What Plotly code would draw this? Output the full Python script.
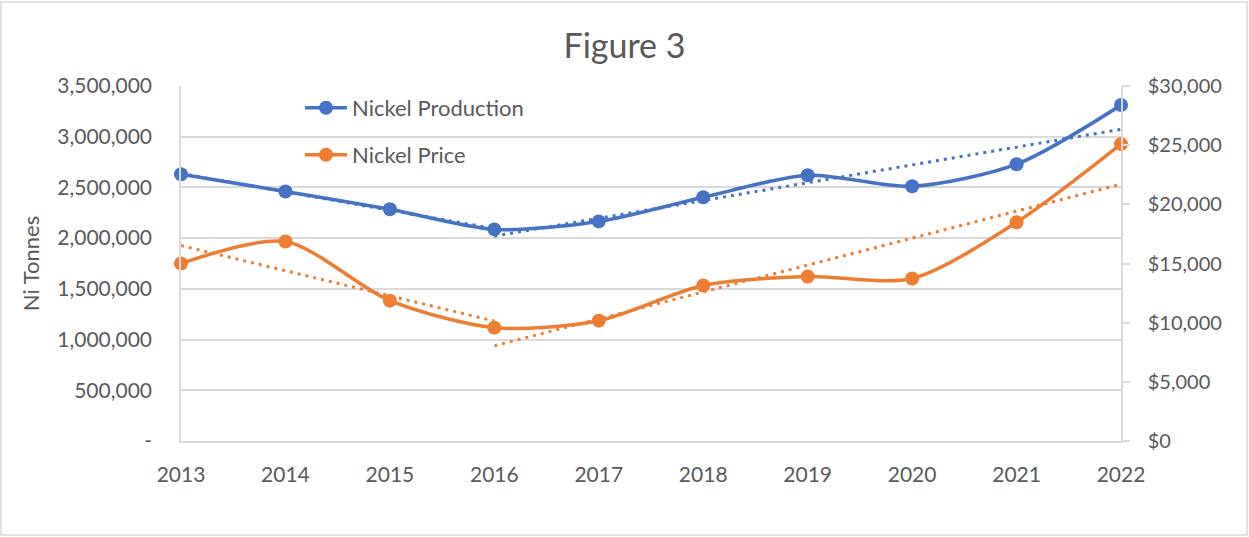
import numpy as np
import plotly.graph_objects as go

years = ["2013", "2014", "2015", "2016", "2017", "2018", "2019", "2020", "2021", "2022"]
production = [2630000, 2460000, 2285000, 2086000, 2165000, 2403000, 2620000, 2511000, 2729000, 3312000]
price = [15000, 16860, 11860, 9580, 10170, 13140, 13900, 13730, 18480, 25090]

left_ticks = [0, 500000, 1000000, 1500000, 2000000, 2500000, 3000000, 3500000]
left_labels = ["-", "500,000", "1,000,000", "1,500,000", "2,000,000", "2,500,000", "3,000,000", "3,500,000"]
right_ticks = [0, 5000, 10000, 15000, 20000, 25000, 30000]
right_labels = ["$0", "$5,000", "$10,000", "$15,000", "$20,000", "$25,000", "$30,000"]

BLUE = "#4472C4"
ORANGE = "#ED7D31"
TXT = "#595959"
GRID = "#D9D9D9"
FONT = "Lato"

xi = np.arange(len(years))


def trend(vals, i0, i1):
    xs = xi[i0:i1 + 1]
    m, b = np.polyfit(xs, np.array(vals[i0:i1 + 1], dtype=float), 1)
    return [years[i0], years[i1]], [m * xs[0] + b, m * xs[-1] + b]


fig = go.Figure()

# trend lines (dotted)
for vals, col, ax in [(production, BLUE, "y"), (price, ORANGE, "y2")]:
    for (a, b) in [(0, 3), (3, 9)]:
        tx, ty = trend(vals, a, b)
        fig.add_trace(go.Scatter(x=tx, y=ty, mode="lines", yaxis=ax, showlegend=False,
                                 hoverinfo="skip",
                                 line=dict(color=col, width=3, dash="3px,5px")))

fig.add_trace(go.Scatter(x=years, y=production, name="Nickel Production", mode="lines+markers",
                         line=dict(color=BLUE, width=3.5, shape="spline", smoothing=0.8),
                         marker=dict(size=14, color=BLUE), cliponaxis=False, legend="legend"))
fig.add_trace(go.Scatter(x=years, y=price, name="Nickel Price", mode="lines+markers", yaxis="y2",
                         line=dict(color=ORANGE, width=3.5, shape="spline", smoothing=0.8),
                         marker=dict(size=14, color=ORANGE), cliponaxis=False, legend="legend2"))

W, H = 1249, 537
L, R, T, B = 181, 128, 86, 96
pw, ph = W - L - R, H - T - B


def px(x):
    return (x - L) / pw


def py(y):
    return (H - B - y) / ph


leg_common = dict(xanchor="left", yanchor="middle", bgcolor="rgba(0,0,0,0)",
                  font=dict(size=22, color=TXT), itemwidth=42)

fig.update_layout(
    width=W, height=H,
    margin=dict(l=L, r=R, t=T, b=B),
    paper_bgcolor="white", plot_bgcolor="white",
    font=dict(family=FONT, color=TXT, size=20),
    title=dict(text="Figure 3", x=0.5, xref="container", xanchor="center",
               y=1 - 46 / H, yref="container", yanchor="middle",
               font=dict(size=34, color=TXT, family=FONT)),
    xaxis=dict(type="category", categoryorder="array", categoryarray=years,
               range=[0, len(years) - 1], showgrid=False, showline=True,
               linecolor=GRID, linewidth=1.5, ticks="", tickfont=dict(size=21, color=TXT),
               ticklabelstandoff=14, zeroline=False),
    yaxis=dict(range=[0, 3500000], tickvals=left_ticks, ticktext=left_labels, showgrid=True,
               gridcolor=GRID, gridwidth=1.5, showline=True, linecolor=GRID, linewidth=1.5,
               ticks="", zeroline=False, tickfont=dict(size=21, color=TXT), ticklabelstandoff=23,
               title=dict(text="Ni Tonnes", font=dict(size=22, color=TXT), standoff=12)),
    yaxis2=dict(range=[0, 30000], tickvals=right_ticks, ticktext=right_labels, overlaying="y",
                side="right", showgrid=False, showline=True, linecolor=GRID, linewidth=1.5,
                ticks="outside", ticklen=7, tickcolor=GRID, tickwidth=1.5, zeroline=False,
                tickfont=dict(size=20, color=TXT), ticklabelstandoff=14),
    legend=dict(x=px(300), y=py(108), **leg_common),
    legend2=dict(x=px(300), y=py(155), **leg_common),
    hovermode=False,
    shapes=[dict(type="rect", xref="paper", yref="paper", x0=px(1), x1=px(1247), y0=py(535), y1=py(2),
                 line=dict(color=GRID, width=1.5), fillcolor="rgba(0,0,0,0)", layer="below")],
)

fig.write_html("out.html", config={"displayModeBar": False},
               post_script="document.body.style.margin='0';document.body.style.overflow='hidden';")
